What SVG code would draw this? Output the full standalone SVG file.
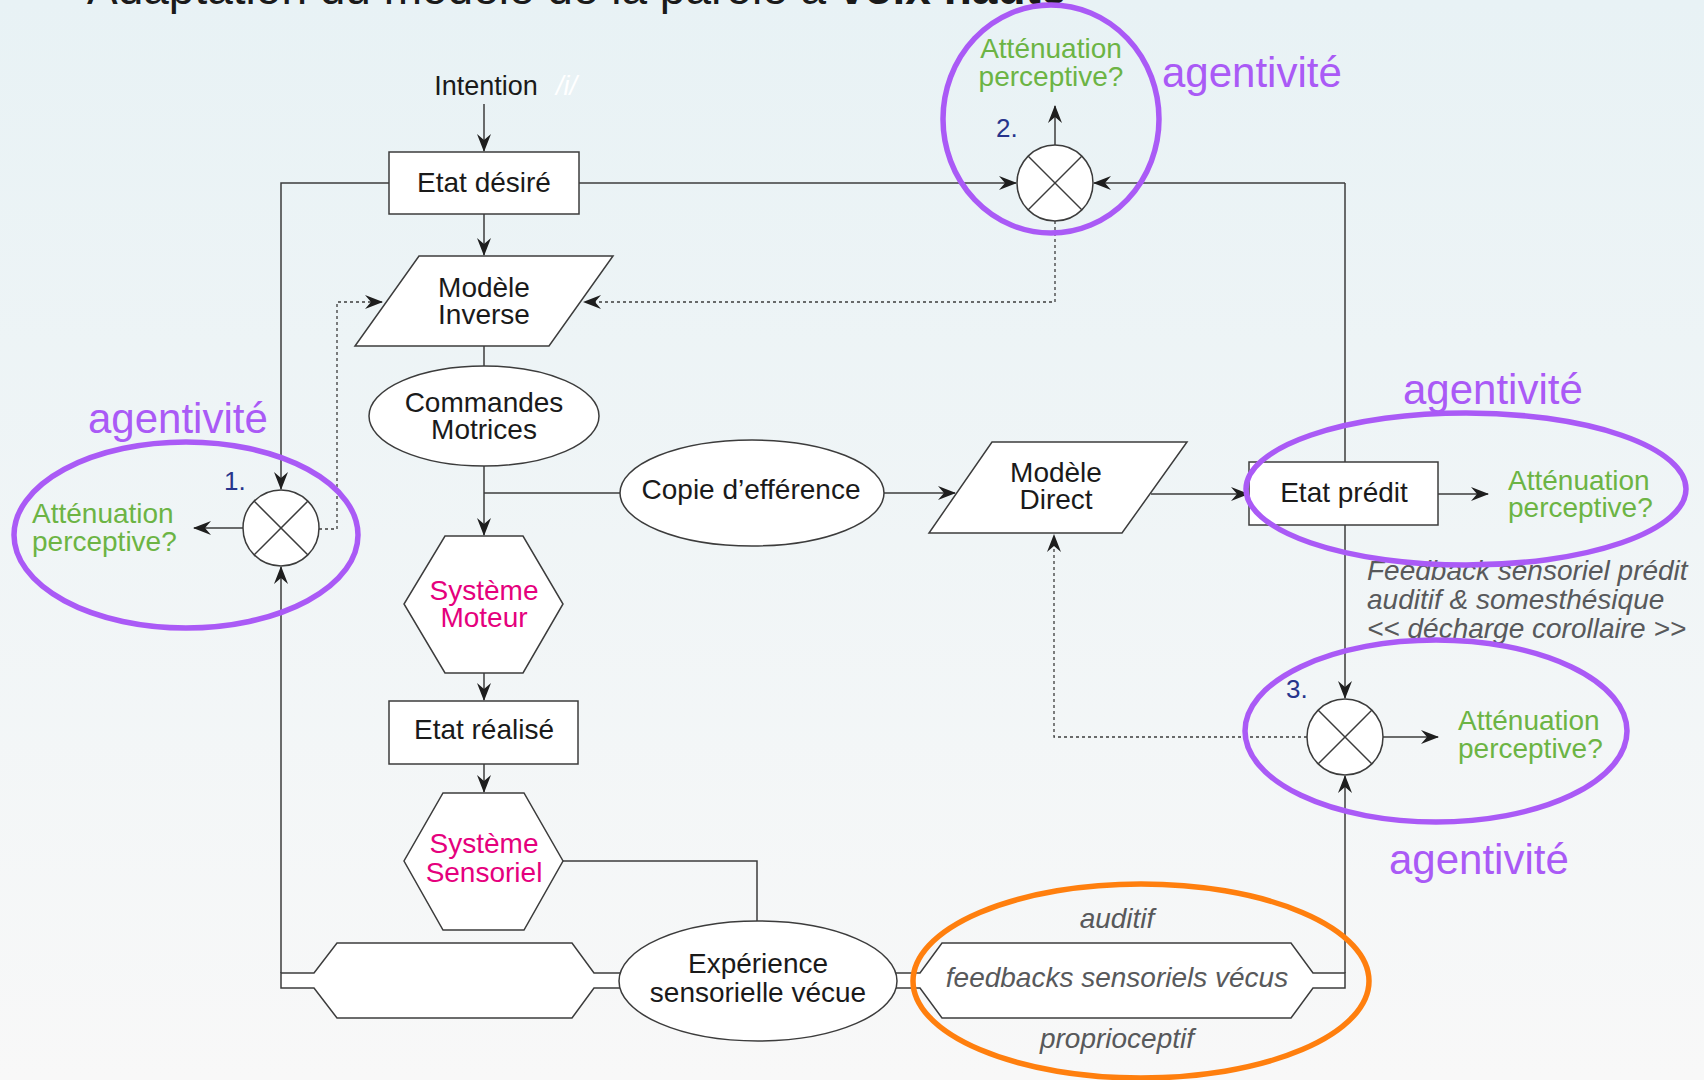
<svg xmlns="http://www.w3.org/2000/svg" width="1704" height="1080" viewBox="0 0 1704 1080">
<defs>
<linearGradient id="bg" x1="0" y1="0" x2="0" y2="1">
<stop offset="0" stop-color="#e8f2f5"/>
<stop offset="1" stop-color="#f8f8f8"/>
</linearGradient>
<marker id="ah" viewBox="0 0 18 14" refX="17" refY="7" markerWidth="18" markerHeight="14" markerUnits="userSpaceOnUse" orient="auto">
<path d="M0,0 L18,7 L0,14 L6,7 z" fill="#1e1e1e"/>
</marker>
<style>
.node{fill:#fff;stroke:#3c3c3c;stroke-width:1.5}
.conn{fill:none;stroke:#3c3c3c;stroke-width:1.5}
.dot{fill:none;stroke:#3c3c3c;stroke-width:1.3;stroke-dasharray:3,3}
.x{stroke:#3c3c3c;stroke-width:1.5}
text{font-family:"Liberation Sans",Arial,sans-serif}
.t{font-size:28px;fill:#1a1a1a;text-anchor:middle}
.m{font-size:28px;fill:#e5007d;text-anchor:middle}
.g{font-size:28px;fill:#6cb444}
.gi{font-size:28px;fill:#58595b;font-style:italic}
.ag{font-size:42px;fill:#aa5af6}
.num{font-size:26px;fill:#27358c}
.hl{fill:none;stroke:#aa5af6;stroke-width:5.5}
.or{fill:none;stroke:#ff7f0e;stroke-width:5.5}
</style>
</defs>
<rect x="0" y="0" width="1704" height="1080" fill="url(#bg)"/>
<text x="87" y="4" style="font-size:46px;fill:#1a1a1a">Adaptation du modèle de la parole à <tspan font-weight="bold">voix haute</tspan></text>

<g id="connectors">
<path class="conn" d="M484,104 L484,151" marker-end="url(#ah)"/>
<path class="conn" d="M484,214 L484,255" marker-end="url(#ah)"/>
<path class="conn" d="M484,346 L484,366"/>
<path class="conn" d="M484,466 L484,535" marker-end="url(#ah)"/>
<path class="conn" d="M484,493 L625,493"/>
<path class="conn" d="M880,493 L955,493" marker-end="url(#ah)"/>
<path class="conn" d="M1151,494 L1248,494" marker-end="url(#ah)"/>
<path class="conn" d="M1438,494 L1488,494" marker-end="url(#ah)"/>
<path class="conn" d="M484,673 L484,700" marker-end="url(#ah)"/>
<path class="conn" d="M484,764 L484,792" marker-end="url(#ah)"/>
<path class="conn" d="M563,861 L757,861 L757,925"/>
<path class="conn" d="M389,183 L281,183 L281,489" marker-end="url(#ah)"/>
<path class="conn" d="M281,973 L281,567" marker-end="url(#ah)"/>
<path class="conn" d="M243,528 L194,528" marker-end="url(#ah)"/>
<path class="dot" d="M319,529 L337,529 L337,302 L382,302" marker-end="url(#ah)"/>
<path class="conn" d="M579,183 L1016,183" marker-end="url(#ah)"/>
<path class="conn" d="M1345,183 L1094,183" marker-end="url(#ah)"/>
<path class="conn" d="M1345,183 L1345,698" marker-end="url(#ah)"/>
<path class="conn" d="M1055,145 L1055,106" marker-end="url(#ah)"/>
<path class="dot" d="M1055,221 L1055,302 L584,302" marker-end="url(#ah)"/>
<path class="dot" d="M1307,737 L1054,737 L1054,535" marker-end="url(#ah)"/>
<path class="conn" d="M1345,973 L1345,776" marker-end="url(#ah)"/>
<path class="conn" d="M1383,737 L1438,737" marker-end="url(#ah)"/>
</g>

<g id="intention">
<text class="t" x="486" y="95" style="font-size:27px">Intention</text>
<text x="556" y="95" style="font-size:27px;fill:#ffffff;font-style:italic">/i/</text>
</g>

<g id="etat-desire">
<rect class="node" x="389" y="152" width="190" height="62"/>
<text class="t" x="484" y="192">Etat désiré</text>
</g>

<g id="modele-inverse">
<polygon class="node" points="419,256 613,256 549,346 355,346"/>
<text class="t" x="484" y="297">Modèle</text>
<text class="t" x="484" y="324">Inverse</text>
</g>

<g id="commandes-motrices">
<ellipse class="node" cx="484" cy="416" rx="115" ry="50"/>
<text class="t" x="484" y="412">Commandes</text>
<text class="t" x="484" y="439">Motrices</text>
</g>

<g id="copie-efference">
<ellipse class="node" cx="752" cy="493" rx="132" ry="53"/>
<text class="t" x="751" y="499">Copie d’efférence</text>
</g>

<g id="modele-direct">
<polygon class="node" points="992,442 1187,442 1122,533 929,533"/>
<text class="t" x="1056" y="482">Modèle</text>
<text class="t" x="1056" y="509">Direct</text>
</g>

<g id="etat-predit">
<rect class="node" x="1249" y="462" width="189" height="63"/>
<text class="t" x="1344" y="502">Etat prédit</text>
</g>

<g id="systeme-moteur">
<polygon class="node" points="445,536 523,536 563,604 523,673 445,673 404,604"/>
<text class="m" x="484" y="600">Système</text>
<text class="m" x="484" y="627">Moteur</text>
</g>

<g id="etat-realise">
<rect class="node" x="389" y="701" width="189" height="63"/>
<text class="t" x="484" y="739">Etat réalisé</text>
</g>

<g id="systeme-sensoriel">
<polygon class="node" points="443,793 524,793 563,861 524,930 443,930 404,861"/>
<text class="m" x="484" y="853">Système</text>
<text class="m" x="484" y="882">Sensoriel</text>
</g>

<g id="bande-gauche">
<polygon class="node" points="281,973 314,973 337,943 572,943 594,973 640,973 640,988 594,988 572,1018 337,1018 314,988 281,988"/>
</g>

<g id="feedbacks-vecus">
<polygon class="node" points="880,973 920,973 942,943 1291,943 1313,973 1345,973 1345,988 1313,988 1291,1018 942,1018 920,988 880,988"/>
<text class="gi" x="1117" y="987" text-anchor="middle">feedbacks sensoriels vécus</text>
<text class="gi" x="1117" y="928" text-anchor="middle">auditif</text>
<text class="gi" x="1117" y="1048" text-anchor="middle">proprioceptif</text>
</g>

<g id="experience">
<ellipse class="node" cx="758" cy="981" rx="139" ry="60"/>
<text class="t" x="758" y="973">Expérience</text>
<text class="t" x="758" y="1002">sensorielle vécue</text>
</g>

<g id="comparateur-1">
<circle class="node" cx="281" cy="528" r="38"/>
<line class="x" x1="254" y1="501" x2="308" y2="555"/>
<line class="x" x1="308" y1="501" x2="254" y2="555"/>
<text class="num" x="224" y="490">1.</text>
<text class="g" x="32" y="523">Atténuation</text>
<text class="g" x="32" y="551">perceptive?</text>
</g>

<g id="comparateur-2">
<circle class="node" cx="1055" cy="183" r="38"/>
<line class="x" x1="1028" y1="156" x2="1082" y2="210"/>
<line class="x" x1="1082" y1="156" x2="1028" y2="210"/>
<text class="num" x="996" y="137">2.</text>
<text class="g" x="1051" y="58" text-anchor="middle">Atténuation</text>
<text class="g" x="1051" y="86" text-anchor="middle">perceptive?</text>
</g>

<g id="comparateur-3">
<circle class="node" cx="1345" cy="737" r="38"/>
<line class="x" x1="1318" y1="710" x2="1372" y2="764"/>
<line class="x" x1="1372" y1="710" x2="1318" y2="764"/>
<text class="num" x="1286" y="698">3.</text>
<text class="g" x="1458" y="730">Atténuation</text>
<text class="g" x="1458" y="758">perceptive?</text>
</g>

<g id="attenuation-predit">
<text class="g" x="1508" y="490">Atténuation</text>
<text class="g" x="1508" y="517">perceptive?</text>
</g>

<g id="decharge-corollaire">
<text class="gi" x="1367" y="580">Feedback sensoriel prédit</text>
<text class="gi" x="1367" y="609">auditif &amp; somesthésique</text>
<text class="gi" x="1367" y="638">&lt;&lt; décharge corollaire &gt;&gt;</text>
</g>

<g id="agentivite">
<ellipse class="hl" cx="186" cy="535" rx="172" ry="93"/>
<ellipse class="hl" cx="1051" cy="119" rx="108" ry="114"/>
<ellipse class="hl" cx="1466" cy="489" rx="220" ry="76"/>
<ellipse class="hl" cx="1436" cy="731" rx="191" ry="91"/>
<ellipse class="or" cx="1141" cy="981" rx="228" ry="97"/>
<text class="ag" x="88" y="433">agentivité</text>
<text class="ag" x="1162" y="87">agentivité</text>
<text class="ag" x="1403" y="404">agentivité</text>
<text class="ag" x="1389" y="874">agentivité</text>
</g>
</svg>
